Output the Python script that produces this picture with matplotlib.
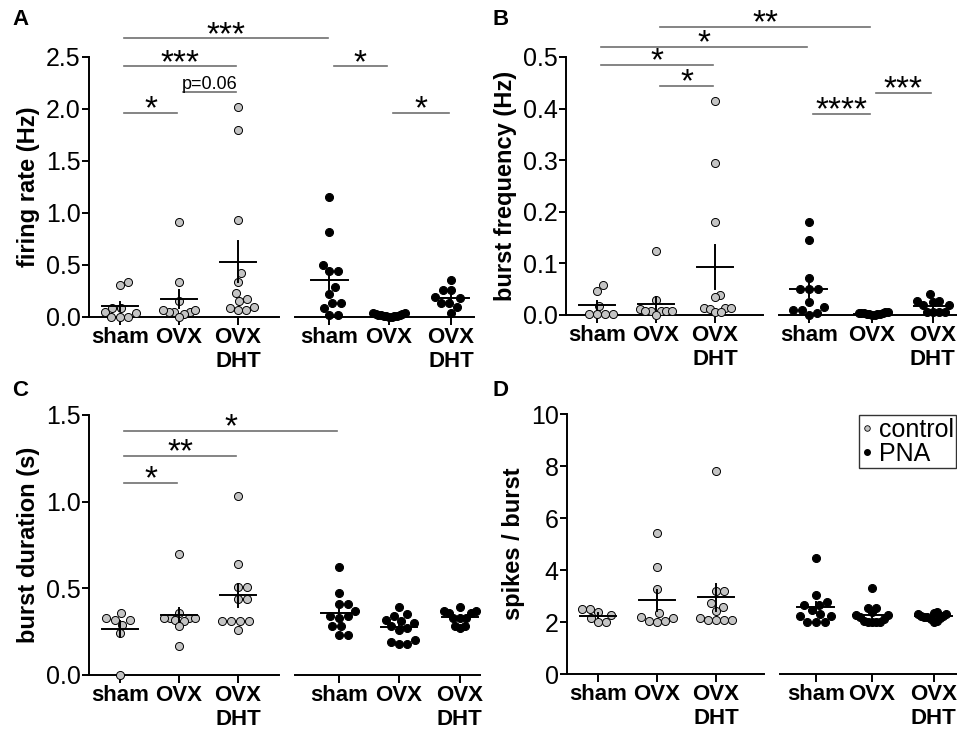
import numpy as np
import matplotlib.pyplot as plt
from matplotlib.lines import Line2D

plt.rcParams['font.family'] = ['Liberation Sans', 'DejaVu Sans']

# ---- data ---------------------------------------------------------------
groups = ["sham", "OVX", "OVX\nDHT", "sham", "OVX", "OVX\nDHT"]

# A: firing rate (Hz)
fr_control = [
    [0.34, 0.31, 0.05, 0.04, 0.086, 0.086, 0.0, 0.0, 0.0],
    [0.91, 0.34, 0.15, 0.045, 0.045, 0.045, 0.07, 0.07, 0.03, 0.0],
    [2.02, 1.80, 0.93, 0.42, 0.34, 0.23, 0.15, 0.17, 0.10, 0.087, 0.064, 0.064],
]
fr_pna = [
    [1.15, 0.82, 0.50, 0.44, 0.44, 0.29, 0.22, 0.13, 0.13, 0.09, 0.02, 0.02],
    [0.04, 0.035, 0.03, 0.02, 0.015, 0.01, 0.005, 0.0, 0.0, 0.005, 0.01, 0.02, 0.03],
    [0.36, 0.26, 0.26, 0.19, 0.18, 0.135, 0.135, 0.10, 0.04],
]

# B: burst frequency (Hz)
bf_control = [
    [0.059, 0.047, 0.018, 0.002, 0.001, 0.002, 0.001],
    [0.124, 0.029, 0.011, 0.007, 0.007, 0.007, 0.007, 0.007, 0.0],
    [0.415, 0.295, 0.18, 0.039, 0.034, 0.013, 0.013, 0.011, 0.014, 0.005, 0.005],
]
bf_pna = [
    [0.181, 0.145, 0.071, 0.051, 0.051, 0.051, 0.026, 0.015, 0.010, 0.010, 0.003, 0.0],
    [0.005, 0.004, 0.003, 0.002, 0.001, 0.0, 0.0, 0.001, 0.002, 0.003, 0.004, 0.005],
    [0.041, 0.027, 0.027, 0.025, 0.019, 0.019, 0.005, 0.005, 0.005, 0.005],
]

# C: burst duration (s)
bd_control = [
    [0.36, 0.32, 0.32, 0.33, 0.29, 0.24, 0.0],
    [0.70, 0.36, 0.33, 0.33, 0.33, 0.33, 0.32, 0.31, 0.28, 0.17],
    [1.03, 0.64, 0.51, 0.51, 0.44, 0.44, 0.31, 0.31, 0.31, 0.31, 0.26],
]
bd_pna = [
    [0.625, 0.475, 0.41, 0.41, 0.37, 0.34, 0.34, 0.33, 0.28, 0.28, 0.23, 0.23],
    [0.39, 0.35, 0.34, 0.32, 0.31, 0.30, 0.28, 0.27, 0.26, 0.20, 0.18, 0.18, 0.19],
    [0.39, 0.37, 0.37, 0.355, 0.355, 0.33, 0.33, 0.33, 0.28, 0.28, 0.27],
]

# D: spikes / burst
spb_control = [
    [2.37, 2.5, 2.49, 2.27, 2.14, 1.99, 1.99],
    [5.41, 4.13, 3.26, 2.18, 2.05, 1.99, 2.05, 2.14, 2.33],
    [7.81, 3.2, 3.2, 2.56, 2.44, 2.72, 2.14, 2.08, 2.08, 2.08, 2.08],
]
spb_pna = [
    [4.45, 3.04, 2.78, 2.65, 2.65, 2.45, 2.23, 2.23, 2.3, 1.99, 1.99, 1.99],
    [3.32, 2.53, 2.53, 2.4, 2.27, 2.27, 2.2, 2.1, 2.05, 2.0, 1.99, 1.99, 2.0],
    [2.4, 2.35, 2.3, 2.3, 2.25, 2.25, 2.2, 2.2, 2.15, 2.1, 2.05, 2.0],
]

# significance bars: (group i, group j, height, label)
sig_fr = [(0, 3, 2.68, '***'), (0, 2, 2.41, '***'), (1, 2, 2.16, 'p=0.06'),
          (0, 1, 1.96, '*'), (3, 4, 2.41, '*'), (4, 5, 1.96, '*')]
sig_bf = [(1, 4, 0.558, '**'), (0, 3, 0.52, '*'), (0, 2, 0.485, '*'),
          (1, 2, 0.444, '*'), (3, 4, 0.39, '****'), (4, 5, 0.43, '***')]
sig_bd = [(0, 3, 1.41, '*'), (0, 2, 1.265, '**'), (0, 1, 1.11, '*')]

CTRL = '#c4c4c4'
PX_UNIT = 59.0  # pixels per group step
W, H = 957, 735

fig = plt.figure(figsize=(W / 100, H / 100), dpi=100)


def swarm(ax, x0, vals, d=9.0, half=16.0):
    vals = np.asarray(vals, float)
    ypx = ax.transData.transform(np.column_stack([np.full(len(vals), x0), vals]))[:, 1]
    xs = np.zeros(len(vals))
    placed = []
    for k in np.argsort(ypx, kind='stable'):
        cands = [0.0]
        for j in placed:
            dy = ypx[k] - ypx[j]
            if abs(dy) < d:
                dx = np.sqrt(d * d - dy * dy)
                cands += [xs[j] + dx, xs[j] - dx]
        cands.sort(key=abs)
        for c in cands:
            if all((c - xs[j]) ** 2 + (ypx[k] - ypx[j]) ** 2 >= d * d - 1e-6 for j in placed):
                xs[k] = c
                break
        placed.append(k)
    m = np.abs(xs).max()
    if m > half:
        xs *= half / m
    return x0 + xs / PX_UNIT


def panel(px_rect, control, pna, pos, ylim, yticks, yfmt, ylabel, brk, sig):
    x0, ytop, x1, ybot = px_rect
    ax = fig.add_axes([x0 / W, 1 - ybot / H, (x1 - x0) / W, (ybot - ytop) / H])
    ax.set_xlim(-0.525, -0.525 + (x1 - x0) / PX_UNIT)
    ax.set_ylim(*ylim)
    for s in ['top', 'right', 'bottom']:
        ax.spines[s].set_visible(False)
    ax.spines['left'].set_linewidth(1.4)
    ax.set_yticks(yticks)
    ax.set_yticklabels([yfmt.format(t) for t in yticks], fontsize=18)
    ax.tick_params(axis='y', length=5, width=1.4, pad=1)
    ax.set_xticks(pos)
    ax.set_xticklabels(groups, fontsize=16, fontweight='bold', linespacing=1.15)
    ax.tick_params(axis='x', length=5.5, width=1.4, pad=2)
    ax.set_ylabel(ylabel, fontsize=17, fontweight='bold', labelpad=4)
    # broken x axis
    ax.plot([-0.525, brk[0]], [ylim[0], ylim[0]], color='k', lw=1.4, clip_on=False, zorder=2)
    ax.plot([brk[1], ax.get_xlim()[1]], [ylim[0], ylim[0]], color='k', lw=1.4, clip_on=False, zorder=2)

    for k, (vals, face) in enumerate([(v, CTRL) for v in control] + [(v, 'black') for v in pna]):
        xc = pos[k]
        xs = swarm(ax, xc, vals)
        ax.plot(xs, vals, 'o', ms=5.8, mfc=face, mec='black', mew=0.7,
                ls='none', clip_on=False, zorder=3)
        mean = np.mean(vals)
        sem = np.std(vals, ddof=1) / np.sqrt(len(vals))
        ax.plot([xc - 0.31, xc + 0.31], [mean, mean], color='k', lw=1.4, zorder=4)
        ax.plot([xc, xc], [mean - sem, mean + sem], color='k', lw=1.4, zorder=4)

    for i, j, y, lab in sig:
        xa, xb = pos[i] + 0.07, pos[j] - 0.03
        ax.plot([xa, xb], [y, y], color='#707070', lw=1.2, clip_on=False)
        if lab.startswith('p'):
            ax.annotate(lab, ((xa + xb) / 2, y), xytext=(0, 2.5), textcoords='offset points',
                        ha='center', va='baseline', fontsize=13, annotation_clip=False)
        else:
            ax.annotate(lab, ((xa + xb) / 2, y), xytext=(0, -4.0), textcoords='offset points',
                        ha='center', va='baseline', fontsize=24, annotation_clip=False)
    return ax


pos_a = [0, 1, 2, 3.55, 4.56, 5.61]
pos_b = [0, 1, 2, 3.59, 4.66, 5.69]
pos_c = [0, 1, 2, 3.71, 4.73, 5.76]
pos_d = [0, 1, 2, 3.69, 4.64, 5.69]

panel((89, 57, 474, 317), fr_control, fr_pna, pos_a, (0, 2.5),
      np.arange(0, 2.51, 0.5), '{:.1f}', 'firing rate (Hz)', (2.69, 2.97), sig_fr)
panel((566, 57, 957, 315), bf_control, bf_pna, pos_b, (0, 0.5),
      np.arange(0, 0.51, 0.1), '{:.1f}', 'burst frequency (Hz)', (2.81, 3.08), sig_bf)
panel((89, 415, 480, 675), bd_control, bd_pna, pos_c, (0, 1.5),
      np.arange(0, 1.51, 0.5), '{:.1f}', 'burst duration (s)', (2.69, 2.97), sig_bd)
ax_d = panel((567, 414, 957, 674), spb_control, spb_pna, pos_d, (0, 10),
             np.arange(0, 10.1, 2), '{:.0f}', 'spikes / burst', (2.81, 3.08), [])

handles = [Line2D([], [], marker='o', ls='none', ms=4, mfc=CTRL, mec='k', mew=0.6),
           Line2D([], [], marker='o', ls='none', ms=4, mfc='k', mec='k')]
leg = ax_d.legend(handles, ['control', 'PNA'], loc='upper right', bbox_to_anchor=(0.998, 0.995),
                  borderaxespad=0, fontsize=18, handlelength=0.5, handletextpad=0.2,
                  labelspacing=0.0, borderpad=0.1, fancybox=False, framealpha=1)
leg.get_frame().set_edgecolor('#333333')
leg.get_frame().set_linewidth(1.0)

for letter, x, y in [('A', 12, 25), ('B', 492, 25), ('C', 12, 396), ('D', 492, 396)]:
    fig.text(x / W, 1 - y / H, letter, fontsize=16, fontweight='bold', va='baseline')

fig.savefig('out.png', dpi=100)
